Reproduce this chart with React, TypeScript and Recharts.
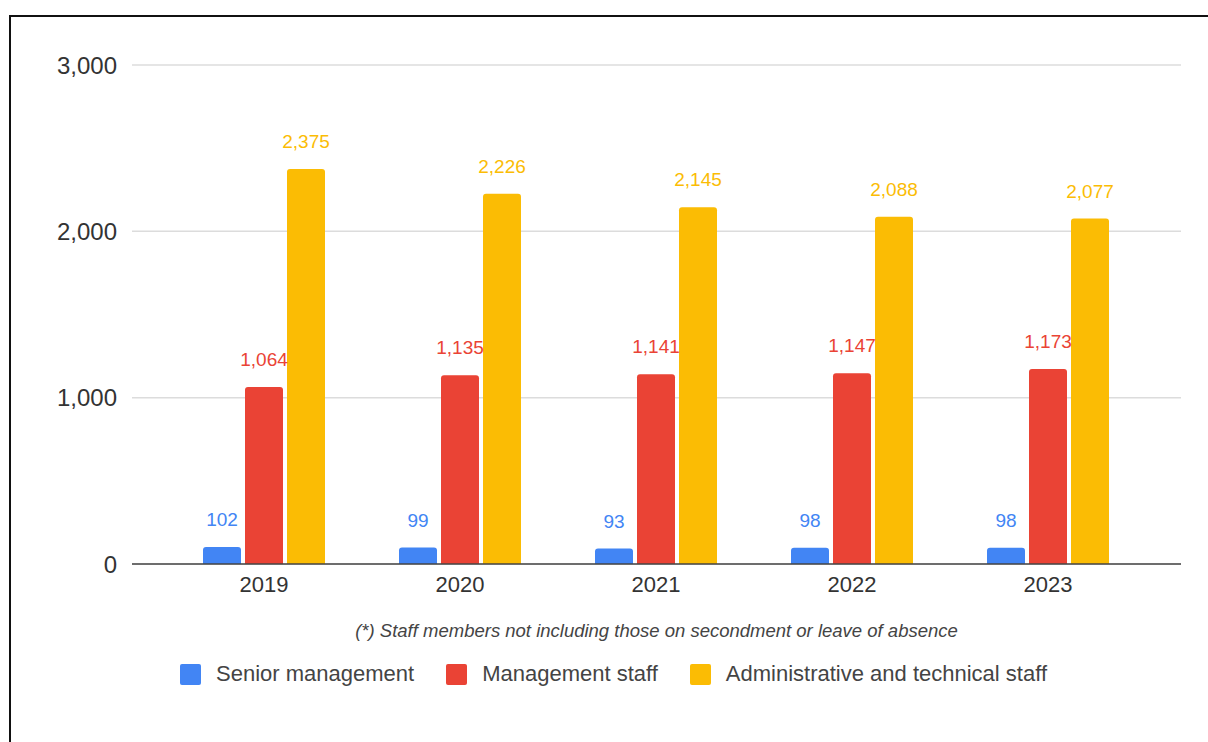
import { BarChart, Bar, XAxis, YAxis, CartesianGrid, Legend, LabelList } from "recharts";

const years: string[] = ["2019", "2020", "2021", "2022", "2023"];
const seniorManagement: number[] = [102, 99, 93, 98, 98];
const managementStaff: number[] = [1064, 1135, 1141, 1147, 1173];
const adminTechStaff: number[] = [2375, 2226, 2145, 2088, 2077];
const yTicks: number[] = [0, 1000, 2000, 3000];

const SERIES = [
  { key: "senior", name: "Senior management", color: "#4285F4" },
  { key: "management", name: "Management staff", color: "#EA4335" },
  { key: "admin", name: "Administrative and technical staff", color: "#FBBC04" },
];

const FOOTNOTE = "(*) Staff members not including those on secondment or leave of absence";
const FONT = '"Liberation Sans", Arial, sans-serif';

const rows = years.map((year, i) => ({
  year,
  senior: seniorManagement[i],
  management: managementStaff[i],
  admin: adminTechStaff[i],
}));

const fmt = (v: any) => Number(v).toLocaleString("en-US");

function LegendBlock() {
  return (
    <div style={{ position: "relative", width: 1208, height: 76, fontFamily: FONT }}>
      <div
        style={{
          position: "absolute",
          left: 132,
          width: 1049,
          top: 8,
          lineHeight: "22px",
          textAlign: "center",
          fontSize: 18.5,
          fontStyle: "italic",
          color: "#444",
        }}
      >
        {FOOTNOTE}
      </div>
      <div style={{ position: "absolute", left: 180, top: 50, display: "flex", alignItems: "center" }}>
        {SERIES.map((s) => (
          <div key={s.key} style={{ display: "flex", alignItems: "center", marginRight: 32 }}>
            <span
              style={{ width: 21, height: 21, borderRadius: 2, background: s.color, marginRight: 15, display: "inline-block" }}
            />
            <span style={{ fontSize: 22, color: "#444", lineHeight: "24px" }}>{s.name}</span>
          </div>
        ))}
      </div>
    </div>
  );
}

export default function App() {
  return (
    <div
      style={{
        position: "absolute",
        left: 0,
        top: 0,
        width: 1208,
        height: 742,
        background: "#fff",
        overflow: "hidden",
        fontFamily: FONT,
      }}
    >
      <div
        style={{
          position: "absolute",
          left: 9,
          top: 15,
          right: -10,
          bottom: -10,
          borderLeft: "2px solid #111",
          borderTop: "2px solid #111",
        }}
      />
      <BarChart
        width={1208}
        height={742}
        data={rows}
        margin={{ top: 65, right: 27, left: 0, bottom: 72 }}
        barGap={4}
        barSize={38}
      >
        <CartesianGrid vertical={false} stroke="#dcdcdc" strokeWidth={1.5} />
        <XAxis
          dataKey="year"
          height={30}
          padding={{ left: 34, right: 35 }}
          tickLine={false}
          tickSize={0}
          tickMargin={12}
          axisLine={{ stroke: "#444", strokeWidth: 1.5 }}
          tick={{ fill: "#333", fontSize: 22, fontFamily: FONT }}
        />
        <YAxis
          width={132}
          domain={[0, 3000]}
          ticks={yTicks}
          tickFormatter={fmt}
          axisLine={false}
          tickLine={false}
          tickSize={0}
          tickMargin={15}
          tick={{ fill: "#333", fontSize: 24, fontFamily: FONT }}
        />
        <Legend
          verticalAlign="bottom"
          content={() => <LegendBlock />}
          wrapperStyle={{ left: 0, top: 612, bottom: "auto", width: 1208, height: 76 }}
        />
        {SERIES.map((s) => (
          <Bar key={s.key} dataKey={s.key} name={s.name} fill={s.color} radius={[3, 3, 0, 0]} isAnimationActive={false}>
            <LabelList
              dataKey={s.key}
              position="top"
              offset={21}
              fill={s.color}
              fontSize={19}
              fontFamily={FONT}
              formatter={fmt}
            />
          </Bar>
        ))}
      </BarChart>
    </div>
  );
}
